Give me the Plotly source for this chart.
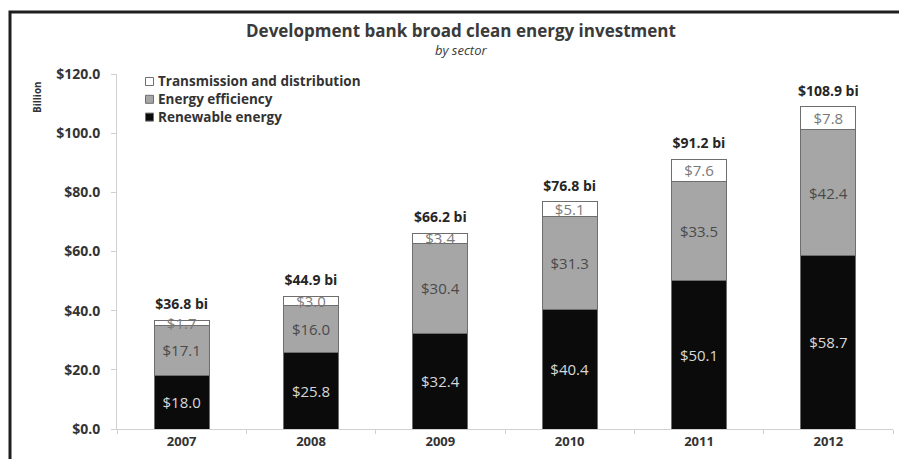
import plotly.graph_objects as go

# Development bank clean energy investment, $ billion, by sector
years = ["2007", "2008", "2009", "2010", "2011", "2012"]
renewable = [18.0, 25.8, 32.4, 40.4, 50.1, 58.7]
efficiency = [17.1, 16.0, 30.4, 31.3, 33.5, 42.4]
transmission = [1.7, 3.0, 3.4, 5.1, 7.6, 7.8]
totals = [36.8, 44.9, 66.2, 76.8, 91.2, 108.9]
y_ticks = [0, 20, 40, 60, 80, 100, 120]

W, H = 899, 459
ML, MR, MT, MB = 117, 6, 74, 30
FONT = "Open Sans"
TXT = "#333333"


def px_x(px):
    return (px - ML) / (W - ML - MR)


def px_y(py):
    return (H - MB - py) / (H - MT - MB)


series = [
    ("Renewable energy", renewable, "#0b0b0b", "#d8d8d8"),
    ("Energy efficiency", efficiency, "#a6a6a6", "#4a4a4a"),
    ("Transmission and distribution", transmission, "#ffffff", "#7a7a7a"),
]

fig = go.Figure()
for name, vals, fill, txtcol in series:
    fig.add_trace(go.Bar(
        x=years, y=vals, name=name,
        marker=dict(color=fill, line=dict(color="#6e6e6e", width=1)),
        text=[f"${v:.1f}" for v in vals],
        textposition="inside", insidetextanchor="middle", textangle=0,
        textfont=dict(family=FONT, size=15, color=txtcol),
        cliponaxis=False, showlegend=False,
    ))

# Stack totals above each column (invisible markers push the text up)
fig.add_trace(go.Scatter(
    x=years, y=totals, mode="markers+text",
    marker=dict(size=10, color="rgba(0,0,0,0)"),
    text=[f"<b>${t:.1f} bi</b>" for t in totals],
    textposition="top center",
    textfont=dict(family=FONT, size=14, color="#262626"),
    cliponaxis=False, showlegend=False, hoverinfo="skip",
))

# Legend: top entry is the top of the stack
legend_rows = [
    ("Transmission and distribution", "#ffffff", 81.5),
    ("Energy efficiency", "#a6a6a6", 99.3),
    ("Renewable energy", "#0b0b0b", 117.1),
]
for label, fill, yc in legend_rows:
    fig.add_shape(
        type="rect", xref="paper", yref="paper",
        x0=px_x(145.5), x1=px_x(153.5), y0=px_y(yc + 4), y1=px_y(yc - 4),
        fillcolor=fill, line=dict(color="#6e6e6e", width=1),
    )
    fig.add_annotation(
        x=px_x(157), y=px_y(yc), xref="paper", yref="paper",
        xanchor="left", yanchor="middle", text=f"<b>{label}</b>",
        borderpad=0,
        showarrow=False, font=dict(family=FONT, size=13.5, color=TXT),
    )

# Chart titles
fig.add_annotation(
    x=px_x(461), y=px_y(31), xref="paper", yref="paper",
    xanchor="center", yanchor="middle",
    text="<b>Development bank broad clean energy investment</b>",
    showarrow=False, font=dict(family=FONT, size=17, color="#3a3a3a"),
)
fig.add_annotation(
    x=px_x(461), y=px_y(50), xref="paper", yref="paper",
    xanchor="center", yanchor="middle",
    text="<i>by sector</i>", showarrow=False,
    font=dict(family=FONT, size=13, color="#3a3a3a"),
)
fig.add_annotation(
    x=px_x(37), y=px_y(97), xref="paper", yref="paper",
    xanchor="center", yanchor="middle",
    text="<b>Billion</b>", textangle=-90, showarrow=False,
    font=dict(family=FONT, size=10, color=TXT),
)

# Outer frame (left and top edges fall inside the page)
x0, ytop = px_x(10), px_y(12)
fig.add_shape(
    type="path", xref="paper", yref="paper",
    path=f"M {x0},{px_y(470)} L {x0},{ytop} L {px_x(910)},{ytop}",
    line=dict(color="#1e1e1e", width=3), layer="below",
)

fig.update_layout(
    width=W, height=H,
    margin=dict(l=ML, r=MR, t=MT, b=MB, pad=0),
    paper_bgcolor="white", plot_bgcolor="white",
    barmode="stack", bargap=0.575,
    uniformtext=dict(minsize=15, mode="show"),
    showlegend=False,
    font=dict(family=FONT),
)
fig.update_xaxes(
    type="category",
    showline=True, linecolor="#d0d0d0", linewidth=1,
    ticks="outside", tickson="boundaries", ticklen=4, tickcolor="#d0d0d0",
    tickfont=dict(family=FONT, size=13, color=TXT, weight="bold"),
    showgrid=False,
)
fig.update_yaxes(
    range=[0, 120], tickvals=y_ticks,
    ticktext=[f"${v:.1f}" for v in y_ticks],
    showline=True, linecolor="#d0d0d0", linewidth=1,
    ticks="outside", ticklen=5, tickcolor="#d0d0d0",
    ticklabelstandoff=8,
    tickfont=dict(family=FONT, size=14, color=TXT, weight="bold"),
    showgrid=False, zeroline=False,
)

fig.write_html("out.html")
